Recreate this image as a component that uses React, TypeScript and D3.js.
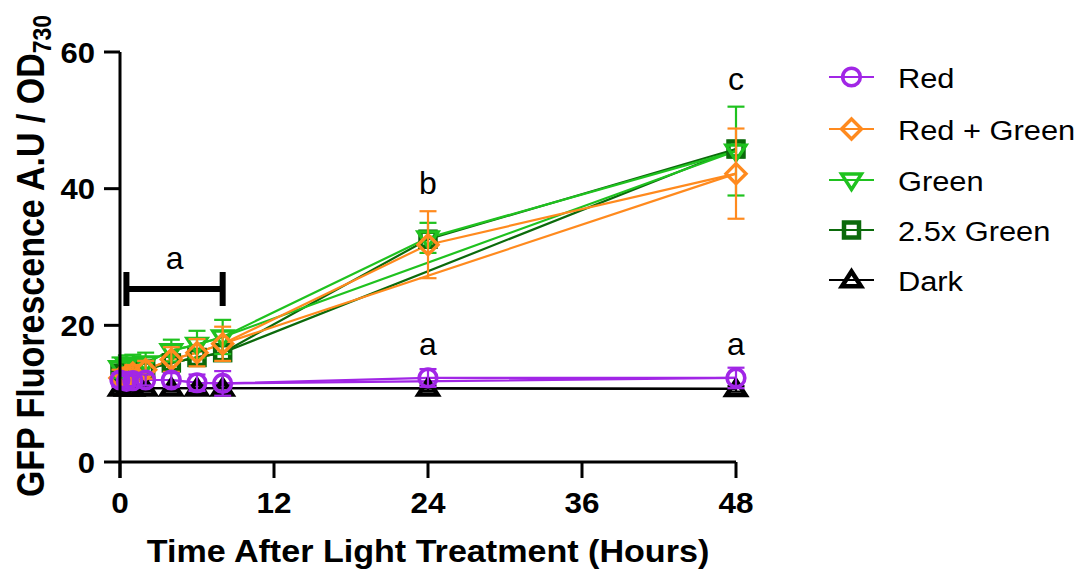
import React from "react";
import * as d3 from "d3";

const times = [0, 0.5, 1, 2, 4, 6, 8, 24, 48];
const xTicks = [0, 12, 24, 36, 48];
const yTicks = [0, 20, 40, 60];

const redMean = [12.0, 11.8, 11.9, 12.0, 12.0, 11.6, 11.5, 12.3, 12.3];
const redErr = [1.0, 0.8, 0.8, 0.8, 1.0, 1.2, 1.8, 1.3, 1.5];
const redGreenMean = [12.3, 12.6, 13.0, 13.5, 15.0, 16.0, 17.3, 31.8, 42.2];
const redGreenErr = [1.2, 1.2, 1.2, 1.3, 1.8, 2.0, 2.5, 4.9, 6.6];
const greenMean = [13.8, 14.2, 14.3, 14.5, 16.3, 17.2, 18.3, 32.8, 45.5];
const greenErr = [1.5, 1.4, 1.4, 1.5, 1.6, 2.0, 2.5, 2.2, 6.5];
const green25Mean = [13.0, 13.3, 13.4, 13.6, 14.5, 15.3, 16.0, 32.6, 45.8];
const green25Err = [0.8, 0.8, 0.8, 0.8, 0.9, 1.0, 1.0, 1.2, 1.2];
const darkMean = [10.8, 10.8, 10.8, 10.8, 10.8, 10.8, 10.8, 10.8, 10.7];
const darkErr = [0.4, 0.4, 0.4, 0.4, 0.4, 0.4, 0.4, 0.4, 0.4];

const seriesNames = ["Red", "Red + Green", "Green", "2.5x Green", "Dark"];
const seriesColors = ["#A126E6", "#FF8A1E", "#1FC21F", "#0B6A0B", "#000000"];
const seriesMarkers = ["circle", "diamond", "triDown", "square", "triUp"];

const W = 1086;
const H = 571;
const SX = 1.13;
const FONT = "'Liberation Sans', Arial, sans-serif";

const x = d3.scaleLinear().domain([0, 48]).range([120, 736]);
const y = d3.scaleLinear().domain([0, 60]).range([462, 52]);

type Pt = { t: number; v: number; e: number };

const series = seriesNames.map((name, i) => {
  const means = [redMean, redGreenMean, greenMean, green25Mean, darkMean][i];
  const errs = [redErr, redGreenErr, greenErr, green25Err, darkErr][i];
  const pts: Pt[] = times.map((t, j) => ({ t, v: means[j], e: errs[j] }));
  return { name, color: seriesColors[i], marker: seriesMarkers[i], pts };
});

function Marker({ type, color, cx, cy }: { type: string; color: string; cx: number; cy: number }) {
  const common = { fill: "none", stroke: color, strokeLinejoin: "miter" as const };
  if (type === "circle") return <circle cx={cx} cy={cy} r={8.8} {...common} strokeWidth={3.6} />;
  if (type === "diamond") {
    const r = 10;
    return <path d={`M${cx},${cy - r}L${cx + r},${cy}L${cx},${cy + r}L${cx - r},${cy}Z`} {...common} strokeWidth={3.4} />;
  }
  if (type === "square") {
    const s = 7.5;
    return <rect x={cx - s} y={cy - s} width={2 * s} height={2 * s} {...common} strokeWidth={4.5} />;
  }
  if (type === "triDown") {
    const r = 10;
    return <path d={`M${cx - r},${cy - r * 0.6}L${cx + r},${cy - r * 0.6}L${cx},${cy + r * 0.95}Z`} {...common} strokeWidth={3.4} />;
  }
  const r = 9.5;
  return <path d={`M${cx - r},${cy + r * 0.65}L${cx + r},${cy + r * 0.65}L${cx},${cy - r * 0.9}Z`} {...common} strokeWidth={4.5} />;
}

export default function App() {
  const line = d3
    .line<Pt>()
    .x((d) => x(d.t))
    .y((d) => y(d.v));
  const drawOrder = [4, 3, 2, 1, 0];
  const legendY = [77, 129, 180, 230, 280];

  return (
    <svg
      width={W}
      height={H}
      style={{ position: "absolute", left: 0, top: 0, background: "#fff" }}
      fontFamily={FONT}
    >
      {drawOrder.map((i) => {
        const s = series[i];
        return (
          <g key={"l" + i}>
            <path d={line(s.pts) || ""} fill="none" stroke={s.color} strokeWidth={2.2} />
            <path d={line(s.pts.filter((p) => p.t !== 24)) || ""} fill="none" stroke={s.color} strokeWidth={2.2} />
          </g>
        );
      })}
      {drawOrder.map((i) => {
        const s = series[i];
        return (
          <g key={"m" + i}>
            {s.pts.map((p, j) => (
              <g key={j} stroke={s.color} strokeWidth={2.2}>
                <line x1={x(p.t)} x2={x(p.t)} y1={y(p.v + p.e)} y2={y(p.v - p.e)} />
                <line x1={x(p.t) - 8.5} x2={x(p.t) + 8.5} y1={y(p.v + p.e)} y2={y(p.v + p.e)} />
                <line x1={x(p.t) - 8.5} x2={x(p.t) + 8.5} y1={y(p.v - p.e)} y2={y(p.v - p.e)} />
              </g>
            ))}
            {s.pts.map((p, j) => (
              <Marker key={"k" + j} type={s.marker} color={s.color} cx={x(p.t)} cy={y(p.v)} />
            ))}
          </g>
        );
      })}

      <line x1={x(0)} x2={x(0)} y1={y(60)} y2={y(0) + 16} stroke="#000" strokeWidth={3} />
      <line x1={x(0)} x2={x(48)} y1={y(0)} y2={y(0)} stroke="#000" strokeWidth={3} />
      {yTicks.map((t) => (
        <g key={"yt" + t}>
          <line x1={x(0) - 16} x2={x(0)} y1={y(t)} y2={y(t)} stroke="#000" strokeWidth={3} />
          <text
            transform={`translate(${x(0) - 25},${y(t) + 10.5}) scale(1.07,1)`}
            textAnchor="end"
            fontSize={29}
            fontWeight="bold"
          >
            {t}
          </text>
        </g>
      ))}
      {xTicks.map((t) => (
        <g key={"xt" + t}>
          <line x1={x(t)} x2={x(t)} y1={y(0)} y2={y(0) + 16} stroke="#000" strokeWidth={3} />
          <text
            transform={`translate(${x(t)},${513}) scale(1.05,1)`}
            textAnchor="middle"
            fontSize={30}
            fontWeight="bold"
          >
            {t}
          </text>
        </g>
      ))}
      <text
        transform={`translate(428,562) scale(1.1,1)`}
        textAnchor="middle"
        fontSize={31}
        fontWeight="bold"
      >
        Time After Light Treatment (Hours)
      </text>
      <text
        transform={`translate(44,256) scale(${SX},1) rotate(-90)`}
        textAnchor="middle"
        fontSize={34}
        fontWeight="bold"
      >
        GFP Fluorescence A.U / OD
        <tspan fontSize={23} dy={6}>
          730
        </tspan>
      </text>

      <g stroke="#000" strokeWidth={6}>
        <line x1={x(0.5)} x2={x(8)} y1={289} y2={289} />
        <line x1={x(0.5)} x2={x(8)} y1={289} y2={289} />
        <line x1={x(0.5)} x2={x(0.5)} y1={272} y2={306} />
        <line x1={x(8)} x2={x(8)} y1={272} y2={306} />
      </g>
      <g fontSize={32} textAnchor="middle">
        <text x={(x(0.5) + x(8)) / 2} y={269}>a</text>
        <text x={x(24)} y={194}>b</text>
        <text x={x(48)} y={90}>c</text>
        <text x={x(24)} y={355}>a</text>
        <text x={x(48)} y={355}>a</text>
      </g>

      {series.map((s, i) => (
        <g key={"lg" + i}>
          <line x1={829} x2={874} y1={legendY[i]} y2={legendY[i]} stroke={s.color} strokeWidth={2.2} />
          <Marker type={s.marker} color={s.color} cx={851.5} cy={legendY[i]} />
          <text
            transform={`translate(898,${legendY[i] + 10.5}) scale(1.1,1)`}
            fontSize={28}
          >
            {s.name}
          </text>
        </g>
      ))}
    </svg>
  );
}
